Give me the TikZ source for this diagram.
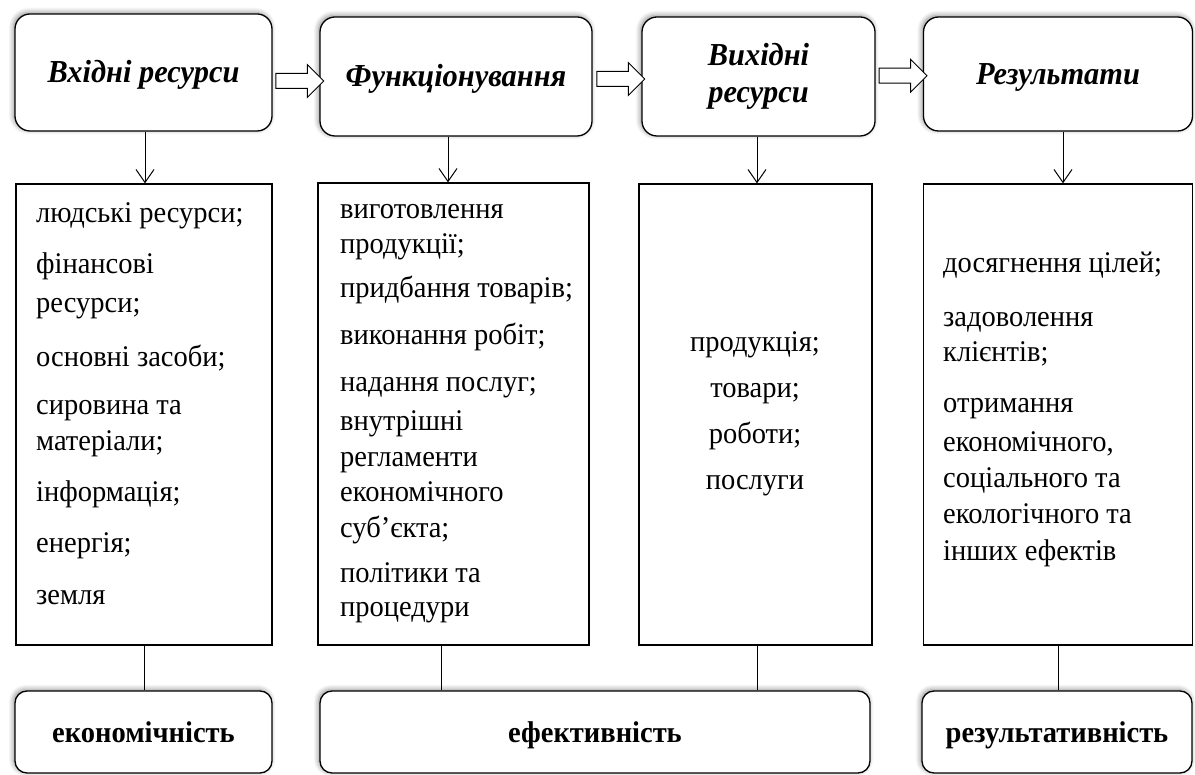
\documentclass[tikz,border=0pt]{standalone}
\usepackage{fontspec}
\setmainfont{Liberation Serif}
\newfontfamily\tnr{Liberation Serif}[FakeStretch=0.95]
\usetikzlibrary{shapes.arrows,shadows.blur,arrows.meta,calc}
\tikzset{
  headbox/.style={draw, line width=1.3pt, rounded corners=15pt, fill=white,
    blur shadow={shadow xshift=-1.5pt, shadow yshift=1.5pt, shadow blur steps=8, shadow blur radius=5pt, shadow opacity=45},
    font=\tnr\fontsize{32}{37}\selectfont\bfseries\itshape, align=center, inner sep=0},
  oneline/.style={text height=28pt, text depth=7pt},
  listbox/.style={draw, line width=1.3pt, fill=white, inner sep=0},
  footbox/.style={headbox, rounded corners=12pt, font=\tnr\fontsize{30}{36}\selectfont\bfseries, text height=26pt, text depth=6pt},
  item/.style={anchor=base west, inner sep=0, font=\tnr\fontsize{30}{36}\selectfont},
  citem/.style={item, anchor=base},
  downarrow/.style={line width=1pt, -{Straight Barb[length=13pt,width=18pt,line width=1pt]}},
  link/.style={line width=1pt},
  blockarrow/.style={single arrow, draw, line width=1pt, fill=white, text height=7pt, text depth=7pt,
    inner sep=0, single arrow head extend=9pt, minimum height=48pt}
}
\begin{document}
\begin{tikzpicture}[x=1pt,y=-1pt]
\useasboundingbox (0,0) rectangle (1195,775);
% top boxes
\node[headbox, oneline, minimum width=257pt, minimum height=117pt] (t1) at (143.5,72.5) {Вхідні ресурси};
\node[headbox, oneline, minimum width=272pt, minimum height=119pt] (t2) at (456,76.5) {Функціонування};
\node[headbox, minimum width=233pt, minimum height=119pt] (t3) at (758.5,76.5) {Вихідні\\ресурси};
\node[headbox, oneline, minimum width=269pt, minimum height=114pt] (t4) at (1058,74) {Результати};
% block arrows
\node[blockarrow] (ar1) at ($(t1.east)!.5!(t2.west)+(0,6.5)$) {};
\node[blockarrow] (ar2) at ($(t2.east)!.5!(t3.west)+(0,2.5)$) {};
\node[blockarrow] (ar3) at ($(t3.east)!.5!(t4.west)+(0,0.5)$) {};
% middle boxes
\node[listbox, minimum width=256pt, minimum height=461pt] (m1) at (144,414.5) {};
\node[listbox, minimum width=271pt, minimum height=462pt] (m2) at (453.5,414) {};
\node[listbox, minimum width=233pt, minimum height=461pt] (m3) at (755.5,414.5) {};
\node[listbox, minimum width=269pt, minimum height=461pt] (m4) at (1058,414.5) {};
% down arrows
\draw[downarrow] ([xshift=1.5pt]t1.south) -- ([xshift=1.5pt]t1.south |- m1.north);
\draw[downarrow] ([xshift=-8pt]t2.south) -- ([xshift=-8pt]t2.south |- m2.north);
\draw[downarrow] ([xshift=-1.5pt]t3.south) -- ([xshift=-1.5pt]t3.south |- m3.north);
\draw[downarrow] ([xshift=5pt]t4.south) -- ([xshift=5pt]t4.south |- m4.north);
% bottom boxes
\node[footbox, minimum width=257pt, minimum height=82pt] (b1) at (143.5,732) {економічність};
\node[footbox, minimum width=550pt, minimum height=82pt] (b2) at (595,732) {ефективність};
\node[footbox, minimum width=270pt, minimum height=82pt] (b3) at (1057,732) {результативність};
% links
\draw[link] (m1.south) -- (m1.south |- b1.north);
\draw[link] ([xshift=-12.5pt]m2.south) -- ([xshift=-12.5pt]m2.south |- b2.north);
\draw[link] ([xshift=1.5pt]m3.south) -- ([xshift=1.5pt]m3.south |- b2.north);
\draw[link] (m4.south) -- (m4.south |- b3.north);
% box 1 items
\node[item] (a1) at (36,223) {людські ресурси;};
\node[item] (a2) at (36,274) {фінансові};
\node[item] (a3) at (36,313) {ресурси;};
\node[item] (a4) at (36,367) {основні засоби;};
\node[item] (a5) at (36,415) {сировина та};
\node[item] (a6) at (36,451) {матеріали;};
\node[item] (a7) at (36,502) {інформація;};
\node[item] (a8) at (36,553) {енергія;};
\node[item] (a9) at (36,605) {земля};
% box 2 items
\node[item] (f1) at (340,219) {виготовлення};
\node[item] (f2) at (340,254) {продукції;};
\node[item] (f3) at (340,298) {придбання товарів;};
\node[item] (f4) at (340,345) {виконання робіт;};
\node[item] (f5) at (340,392) {надання послуг;};
\node[item] (f6) at (340,431) {внутрішні};
\node[item] (f7) at (340,467) {регламенти};
\node[item] (f8) at (340,502) {економічного};
\node[item] (f9) at (340,538) {суб’єкта;};
\node[item] (f10) at (340,582) {політики та};
\node[item] (f11) at (340,616) {процедури};
% box 3 items
\node[citem] (o1) at (755,352) {продукція;};
\node[citem] (o2) at (755,398) {товари;};
\node[citem] (o3) at (755,444) {роботи;};
\node[citem] (o4) at (755,490) {послуги};
% box 4 items
\node[item] (r1) at (943,273) {досягнення цілей;};
\node[item] (r2) at (943,327) {задоволення};
\node[item] (r3) at (943,362) {клієнтів;};
\node[item] (r4) at (943,413) {отримання};
\node[item] (r5) at (943,452) {економічного,};
\node[item] (r6) at (943,488) {соціального та};
\node[item] (r7) at (943,524) {екологічного та};
\node[item] (r8) at (943,560) {інших ефектів};
\end{tikzpicture}
\end{document}
